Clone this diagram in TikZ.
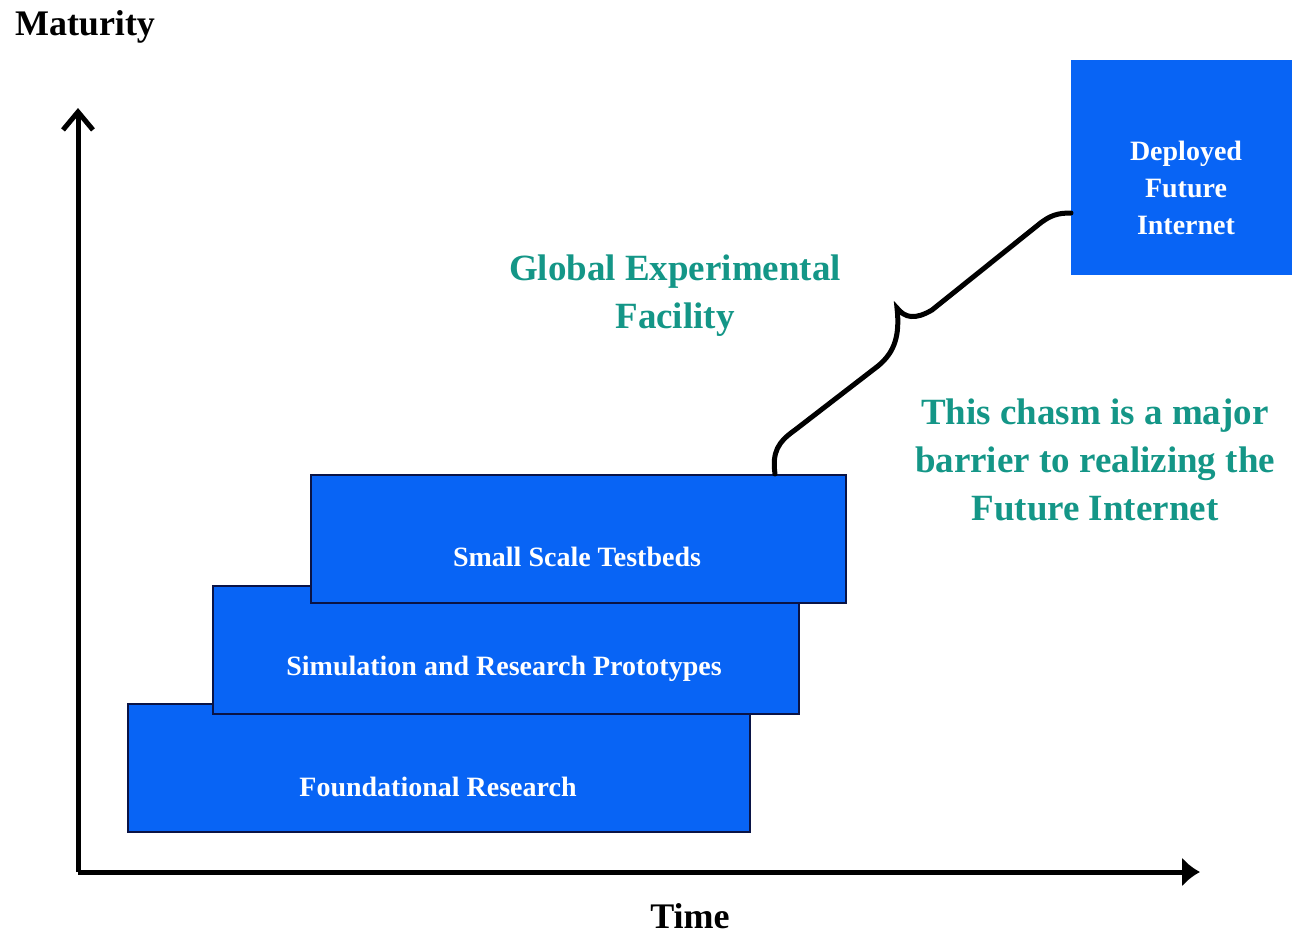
\documentclass[tikz,border=0pt]{standalone}
\usepackage{fontspec}
\setmainfont{Liberation Serif}
\usetikzlibrary{arrows.meta}
\definecolor{boxblue}{RGB}{8,100,245}
\definecolor{boxedge}{RGB}{10,20,70}
\definecolor{teal2}{RGB}{20,150,135}
\tikzset{
  stepbox/.style={draw=boxedge, line width=1pt, fill=boxblue, anchor=north west, inner sep=0pt},
  boxtext/.style={text=white, font=\bfseries\fontsize{14}{18.5}\selectfont, align=center},
  axislabel/.style={font=\bfseries\fontsize{18}{22}\selectfont},
  note/.style={text=teal2, font=\bfseries\fontsize{18.5}{24}\selectfont, align=center},
  axisline/.style={line width=2.5pt},
}
\begin{document}
\begin{tikzpicture}[x=0.5pt,y=-0.5pt]
\useasboundingbox (0,0) rectangle (1292,937);
% axes
\coordinate (origin) at (78,872);
\coordinate (ytop) at (78,108);
\coordinate (xend) at (1200,872);
\draw[axisline, -{Straight Barb[length=9pt,width=15pt,line width=2.5pt]}] (origin) -- (ytop);
\draw[axisline, -{Latex[length=9pt,width=15pt]}] (origin) -- (xend);
\node[axislabel] (mat) at (85,27) {Maturity};
\node[axislabel] (time) at (690,916) {Time};
% steps
\node[stepbox, minimum width=311pt, minimum height=64pt] (found) at (127,703) {};
\node[stepbox, minimum width=293pt, minimum height=64pt] (sim) at (212,585) {};
\node[stepbox, minimum width=267.5pt, minimum height=64pt] (small) at (310,474) {};
\node[boxtext] (foundt) at (438,787) {Foundational Research};
\node[boxtext] (simt) at (504,669) {Simulation and Research Prototypes};
\node[boxtext] (smallt) at (577,557) {Small Scale Testbeds};
% deployed
\node[fill=boxblue, anchor=north west, inner sep=0pt, minimum width=110.5pt, minimum height=107.5pt] (dep) at (1071,60) {};
\node[boxtext] (dept) at (1186,188) {Deployed\\Future\\Internet};
% brace
\coordinate (bstart) at (775,474);
\coordinate (bend) at (1071,213);
\draw[line width=2.5pt, line cap=round] (bstart) .. controls (772,452) and (778,442) .. (795,430)
  -- (878,366) .. controls (895,352) and (900,335) .. (897,308)
  .. controls (905,318) and (915,320) .. (932,310)
  -- (1038,225) .. controls (1050,215) and (1058,213) .. (bend);
% notes
\node[note] (gef) at (675,296) {Global Experimental\\Facility};
\node[note] (chasm) at (1095,460) {This chasm is a major\\barrier to realizing the\\Future Internet};
\end{tikzpicture}
\end{document}
